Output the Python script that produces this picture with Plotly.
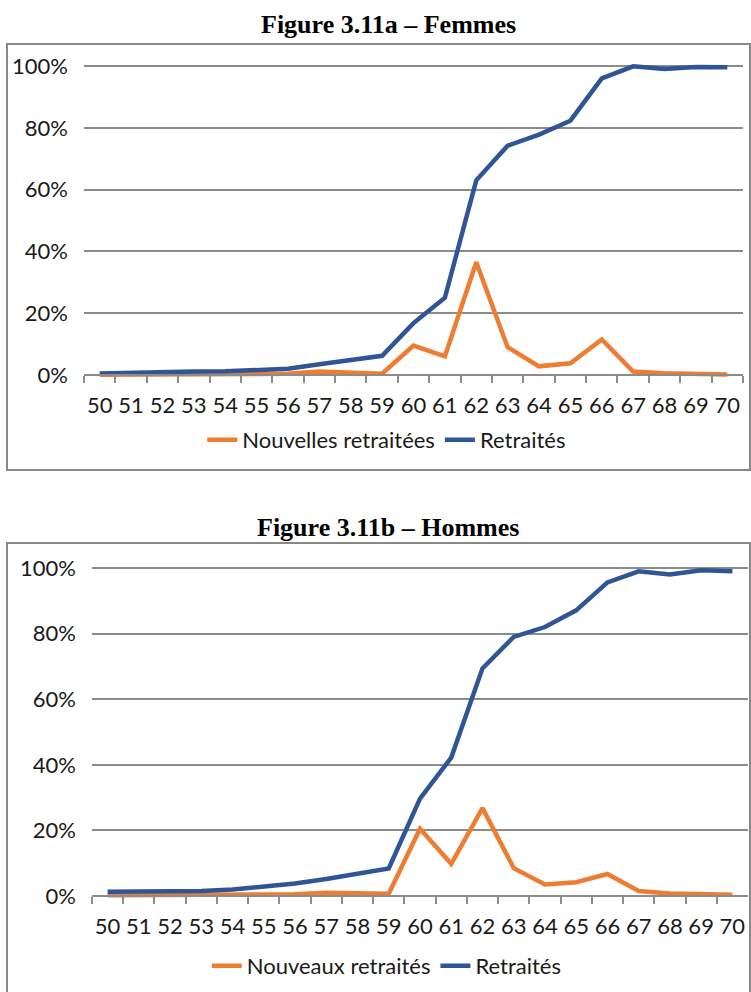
import plotly.graph_objects as go

ages = [str(a) for a in range(50, 71)]
femmes_nouvelles = [0.1, 0.1, 0.1, 0.2, 0.2, 0.3, 0.4, 1.1, 0.8, 0.4, 9.5, 6.0, 36.5, 9.0, 2.8, 3.8, 11.5, 1.1, 0.6, 0.3, 0.2]
femmes_retraites = [0.5, 0.8, 0.9, 1.1, 1.2, 1.6, 2.0, 3.5, 4.8, 6.2, 16.8, 25.0, 63.0, 74.2, 77.8, 82.3, 96.0, 99.9, 99.0, 99.7, 99.6]
hommes_nouveaux = [0.2, 0.2, 0.2, 0.3, 0.3, 0.5, 0.5, 1.0, 1.0, 0.7, 20.5, 9.8, 26.8, 8.5, 3.5, 4.2, 6.7, 1.5, 0.8, 0.5, 0.4]
hommes_retraites = [1.3, 1.4, 1.5, 1.5, 2.0, 3.0, 3.8, 5.2, 6.8, 8.4, 29.7, 42.2, 69.4, 79.0, 82.0, 87.1, 95.6, 99.0, 98.0, 99.3, 99.0]
y_ticks = [0, 0.2, 0.4, 0.6, 0.8, 1.0]
y_ticktext = ["0%", "20%", "40%", "60%", "80%", "100%"]

W, H = 751, 992
ORANGE = "#ED7D31"
BLUE = "#2F5597"
GRID = "#8C8C8C"
TXT = "#1a1a1a"
FONT = "Lato"
PAD = 0.015


def py(p):
    return 1 - p / H


def pxf(p):
    return p / W


def ydomain(p0, p100):
    span = p0 - p100
    return [py(p0 + PAD * span), py(p100 - PAD * span)]


fig = go.Figure()

charts = [
    dict(nouv=femmes_nouvelles, ret=femmes_retraites, nname="Nouvelles retraitées",
         xd=[pxf(84), pxf(743)], p0=375, p100=66, leg="legend", legy=440,
         title="Figure 3.11a – Femmes", ty=25, box=[7, 44, 750, 470]),
    dict(nouv=hommes_nouveaux, ret=hommes_retraites, nname="Nouveaux retraités",
         xd=[pxf(92), pxf(748)], p0=896, p100=568, leg="legend2", legy=966,
         title="Figure 3.11b – Hommes", ty=527, box=[7, 543, 750, 1000]),
]

for i, c in enumerate(charts):
    xa = "x" if i == 0 else "x2"
    ya = "y" if i == 0 else "y2"
    fig.add_trace(go.Scatter(x=ages, y=[v / 100 for v in c["nouv"]], mode="lines",
                             name=c["nname"], line=dict(color=ORANGE, width=4.5),
                             xaxis=xa, yaxis=ya, legend=c["leg"]))
    fig.add_trace(go.Scatter(x=ages, y=[v / 100 for v in c["ret"]], mode="lines",
                             name="Retraités", line=dict(color=BLUE, width=4.5),
                             xaxis=xa, yaxis=ya, legend=c["leg"]))
    xkey = "xaxis" if i == 0 else "xaxis2"
    ykey = "yaxis" if i == 0 else "yaxis2"
    fig.layout[xkey] = dict(
        domain=c["xd"], type="category", range=[-0.5, 20.5], anchor="free",
        position=py(c["p0"]), showline=True, linecolor=GRID, linewidth=1.5,
        ticks="outside", ticklen=7, tickcolor=GRID, tickwidth=1.5, tickson="boundaries",
        showgrid=False, tickfont=dict(family=FONT, size=22, color=TXT), tickangle=0,
        ticklabelstandoff=11, automargin=False, fixedrange=True)
    fig.layout[ykey] = dict(
        domain=ydomain(c["p0"], c["p100"]), range=[-PAD, 1 + PAD], anchor=xa,
        tickvals=y_ticks, ticktext=y_ticktext, showgrid=True, gridcolor=GRID,
        gridwidth=1.5, zeroline=False, showline=False,
        tickfont=dict(family=FONT, size=22, color=TXT), ticklabelstandoff=15,
        automargin=False, fixedrange=True)
    fig.layout[c["leg"]] = dict(
        orientation="h", x=0.515, xanchor="center", y=py(c["legy"]), yanchor="middle",
        font=dict(family=FONT, size=22, color=TXT), bgcolor="rgba(0,0,0,0)",
        itemwidth=30, traceorder="normal")
    fig.add_annotation(text="<b>" + c["title"] + "</b>", x=pxf(388), y=py(c["ty"]),
                       xref="paper", yref="paper", showarrow=False,
                       xanchor="center", yanchor="middle",
                       font=dict(family="Liberation Serif", size=26, color="#000"))
    b = c["box"]
    fig.add_shape(type="rect", xref="paper", yref="paper",
                  x0=pxf(b[0]), x1=pxf(b[2]), y0=py(b[3]), y1=py(b[1]),
                  line=dict(color="#888888", width=2))

fig.update_layout(width=W, height=H, margin=dict(l=0, r=0, t=0, b=0),
                  paper_bgcolor="white", plot_bgcolor="white", showlegend=True)

fig.write_html("out.html", config={"displayModeBar": False},
               post_script="document.body.style.margin='0';document.body.style.overflow='hidden';")
